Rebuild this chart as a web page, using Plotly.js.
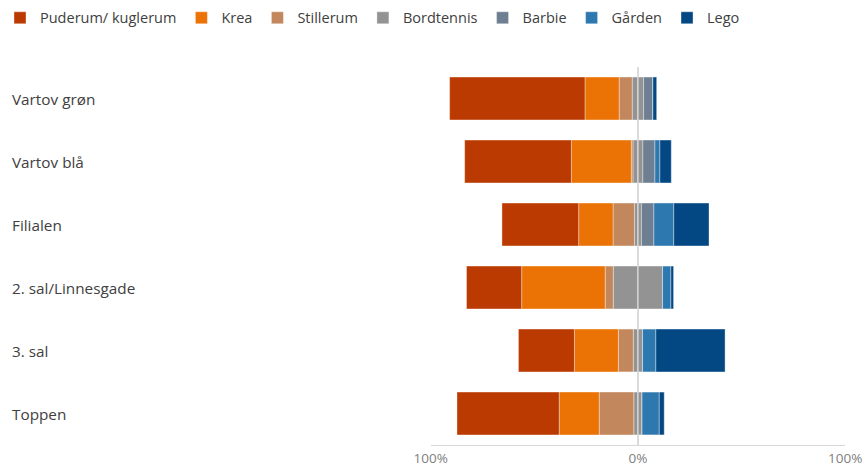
<!DOCTYPE html>
<html>
<head>
<meta charset="utf-8">
<script src="https://cdn.plot.ly/plotly-3.0.1.min.js"></script>
<style>html,body{margin:0;padding:0;background:#fff;}#chart{width:866px;height:465px;}</style>
</head>
<body>
<div id="chart"></div>
<script>
// Categories (top to bottom)
const categories = ["Vartov grøn", "Vartov blå", "Filialen", "2. sal/Linnesgade", "3. sal", "Toppen"];
// Series values in percent
const puderum    = [65.3, 51.5, 37.0, 26.6, 27.0, 49.3];
const krea       = [16.5, 28.9, 16.6, 40.3, 21.2, 19.3];
const stillerum  = [6.3, 0.8, 10.3, 3.9, 7.2, 16.7];
const bordtennis = [5.5, 4.8, 3.4, 23.8, 4.5, 4.0];
const barbie     = [4.5, 5.8, 6.0, 0, 0, 0];
const garden     = [0, 2.4, 9.6, 4.0, 6.4, 8.3];
const lego       = [1.8, 5.5, 17.0, 1.3, 33.4, 2.4];
// Tick labels
const tickValues = [-100, 0, 100];
const tickLabels = ["100%", "0%", "100%"];

const colors = {
  puderum: "#bb3a02", krea: "#eb7205", stillerum: "#c2875c",
  bordtennis: "#939393", barbie: "#6d7f91", garden: "#2e78b0", lego: "#034883"
};
const neg = a => a.map(v => -v);
const half = a => a.map(v => v / 2);
const line = {color: "rgba(255,255,255,0.45)", width: 0.8};

function bar(name, x, color, rank, showlegend) {
  return {type: "bar", orientation: "h", name: name, y: categories, x: x,
    marker: {color: color, line: line}, legendrank: rank, showlegend: showlegend,
    legendgroup: name, hovertemplate: name + ": %{x}<extra></extra>"};
}

const traces = [
  bar("Bordtennis", neg(half(bordtennis)), colors.bordtennis, 4, true),
  bar("Bordtennis", half(bordtennis), colors.bordtennis, 4, false),
  bar("Stillerum", neg(stillerum), colors.stillerum, 3, true),
  bar("Krea", neg(krea), colors.krea, 2, true),
  bar("Puderum/ kuglerum", neg(puderum), colors.puderum, 1, true),
  bar("Barbie", barbie, colors.barbie, 5, true),
  bar("Gården", garden, colors.garden, 6, true),
  bar("Lego", lego, colors.lego, 7, true)
];

const font = "Segoe UI, Open Sans, Noto Sans, sans-serif";
const layout = {
  width: 866, height: 465,
  margin: {l: 12, r: 20, t: 67, b: 20},
  paper_bgcolor: "#fff", plot_bgcolor: "#fff",
  barmode: "relative", bargap: 0.32,
  font: {family: font, size: 14, color: "#404040"},
  showlegend: true,
  legend: {orientation: "h", xref: "container", yref: "container", x: 0.0, y: 0.996,
    xanchor: "left", yanchor: "top", font: {family: font, size: 14.5, color: "#404040"},
    traceorder: "normal", itemclick: false},
  xaxis: {domain: [0.502, 0.999], range: [-100, 100], tickvals: tickValues, ticktext: tickLabels,
    showgrid: true, gridcolor: "#d9d9d9", gridwidth: 1.3, zeroline: false,
    showline: true, linecolor: "#d9d9d9", linewidth: 1.3, ticks: "",
    tickfont: {family: font, size: 13.5, color: "#808080"}, fixedrange: true},
  yaxis: {autorange: "reversed", showticklabels: false, showgrid: false, zeroline: false,
    showline: false, ticks: "", fixedrange: true},
  annotations: categories.map(c => ({xref: "paper", yref: "y", x: 0, y: c, text: c,
    xanchor: "left", xshift: -2, showarrow: false, font: {family: font, size: 15.3, color: "#404040"}})),
  shapes: [{type: "line", xref: "x", yref: "paper", x0: 0, x1: 0, y0: 0, y1: 1,
    line: {color: "rgba(220,220,220,0.85)", width: 1.3}, layer: "above"}]
};

Plotly.newPlot("chart", traces, layout, {displayModeBar: false, staticPlot: true});
</script>
</body>
</html>
